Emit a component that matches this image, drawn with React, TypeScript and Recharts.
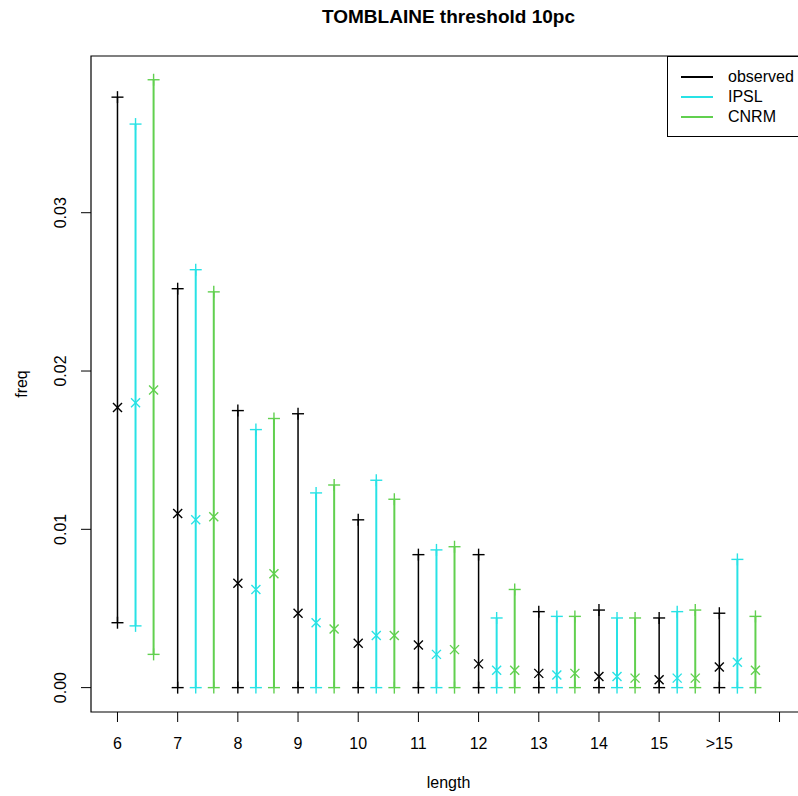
import React from "react";
import {
  ComposedChart,
  Scatter,
  ErrorBar,
  XAxis,
  YAxis,
  ReferenceArea,
  Legend,
} from "recharts";

// length classes (16 is shown as ">15")
const lengths = [6, 7, 8, 9, 10, 11, 12, 13, 14, 15, 16];
const xTicks = [6, 7, 8, 9, 10, 11, 12, 13, 14, 15, 16, 17];
const yTicks = [0, 0.01, 0.02, 0.03];

const obsLo = [0.0041, 0, 0, 0, 0, 0, 0, 0, 0, 0, 0];
const obsMid = [0.0177, 0.011, 0.0066, 0.0047, 0.0028, 0.0027, 0.0015, 0.0009, 0.0007, 0.0005, 0.0013];
const obsHi = [0.0373, 0.0252, 0.0175, 0.0173, 0.0106, 0.0084, 0.0084, 0.0048, 0.0049, 0.0044, 0.0047];

const ipslLo = [0.0039, 0, 0, 0, 0, 0, 0, 0, 0, 0, 0];
const ipslMid = [0.018, 0.0106, 0.0062, 0.0041, 0.0033, 0.0021, 0.0011, 0.0008, 0.0007, 0.0006, 0.0016];
const ipslHi = [0.0356, 0.0264, 0.0163, 0.0123, 0.0131, 0.0087, 0.0044, 0.0045, 0.0044, 0.0048, 0.0081];

const cnrmLo = [0.0021, 0, 0, 0, 0, 0, 0, 0, 0, 0, 0];
const cnrmMid = [0.0188, 0.0108, 0.0072, 0.0037, 0.0033, 0.0024, 0.0011, 0.0009, 0.0006, 0.0006, 0.0011];
const cnrmHi = [0.0384, 0.025, 0.017, 0.0128, 0.0119, 0.0089, 0.0062, 0.0045, 0.0044, 0.0049, 0.0045];

const xDomain: [number, number] = [5.56, 17.44];
const yDomain: [number, number] = [-0.00154, 0.0399];

const series = [
  { name: "observed", color: "#000000", offset: 0, lo: obsLo, mid: obsMid, hi: obsHi },
  { name: "IPSL", color: "#28E2E5", offset: 0.3, lo: ipslLo, mid: ipslMid, hi: ipslHi },
  { name: "CNRM", color: "#61D04F", offset: 0.6, lo: cnrmLo, mid: cnrmMid, hi: cnrmHi },
];

const buildRows = (s: (typeof series)[number], key: "lo" | "mid" | "hi") =>
  lengths.map((len, i) => ({
    x: len + s.offset,
    y: s[key][i],
    err: [s.mid[i] - s.lo[i], s.hi[i] - s.mid[i]],
  }));

const Plus = ({ cx, cy, color }: any) => (
  <g stroke={color} strokeWidth={1.4}>
    <line x1={cx - 6} y1={cy} x2={cx + 6} y2={cy} />
    <line x1={cx} y1={cy - 6} x2={cx} y2={cy + 6} />
  </g>
);

const Cross = ({ cx, cy, color }: any) => (
  <g stroke={color} strokeWidth={1.4}>
    <line x1={cx - 4.5} y1={cy - 4.5} x2={cx + 4.5} y2={cy + 4.5} />
    <line x1={cx - 4.5} y1={cy + 4.5} x2={cx + 4.5} y2={cy - 4.5} />
  </g>
);

const YTick = ({ x, y, payload }: any) => (
  <text
    x={x}
    y={y}
    fontSize={16}
    fill="#000"
    textAnchor="middle"
    dominantBaseline="central"
    transform={`rotate(-90, ${x}, ${y})`}
  >
    {Number(payload.value).toFixed(2)}
  </text>
);

const LegendBox = () => (
  <div
    style={{
      border: "1px solid #000",
      background: "#fff",
      width: 150,
      height: 79,
      position: "relative",
      fontSize: 16,
    }}
  >
    {series.map((s, i) => (
      <div
        key={s.name}
        style={{ position: "absolute", left: 13, top: 10 + i * 20, height: 20, display: "flex", alignItems: "center" }}
      >
        <div style={{ width: 32, height: 2, background: s.color }} />
        <span style={{ marginLeft: 15, lineHeight: "20px" }}>{s.name}</span>
      </div>
    ))}
  </div>
);

export default function App() {
  return (
    <div
      style={{
        position: "absolute",
        left: 0,
        top: 0,
        width: 798,
        height: 796,
        overflow: "hidden",
        background: "#fff",
        fontFamily: '"Liberation Sans", Arial, sans-serif',
        color: "#000",
      }}
    >
      <div
        style={{
          position: "absolute",
          left: 91,
          top: 7,
          width: 715,
          textAlign: "center",
          fontWeight: "bold",
          fontSize: 19,
          lineHeight: "19px",
        }}
      >
        TOMBLAINE threshold 10pc
      </div>
      <div
        style={{
          position: "absolute",
          left: 91,
          top: 775,
          width: 715,
          textAlign: "center",
          fontSize: 16,
          lineHeight: "16px",
        }}
      >
        length
      </div>
      <div
        style={{
          position: "absolute",
          left: -28,
          top: 374,
          width: 100,
          height: 20,
          textAlign: "center",
          fontSize: 16,
          lineHeight: "20px",
          transform: "rotate(-90deg)",
        }}
      >
        freq
      </div>
      <ComposedChart
        width={830}
        height={796}
        margin={{ top: 56, right: 24, bottom: 44, left: 0 }}
        style={{ position: "absolute", left: 0, top: 0 }}
      >
        <XAxis
          dataKey="x"
          type="number"
          domain={xDomain}
          ticks={xTicks}
          allowDataOverflow
          interval={0}
          axisLine={false}
          tickLine={{ stroke: "#000" }}
          tickSize={10}
          tickMargin={16}
          height={40}
          tick={{ fontSize: 16, fill: "#000" }}
          tickFormatter={(v: number) => (v === 16 ? ">15" : v === 17 ? "" : String(v))}
        />
        <YAxis
          dataKey="y"
          type="number"
          domain={yDomain}
          ticks={yTicks}
          allowDataOverflow
          interval={0}
          axisLine={false}
          tickLine={{ stroke: "#000" }}
          tickSize={10}
          tickMargin={20}
          width={91}
          tick={<YTick />}
        />
        <ReferenceArea
          x1={xDomain[0]}
          x2={xDomain[1]}
          y1={yDomain[0]}
          y2={yDomain[1]}
          fill="none"
          stroke="#000"
          strokeWidth={1.2}
          ifOverflow="visible"
        />
        {series.map((s) => (
          <Scatter
            key={s.name + "-mid"}
            name={s.name}
            data={buildRows(s, "mid")}
            isAnimationActive={false}
            shape={(p: any) => <Cross cx={p.cx} cy={p.cy} color={s.color} />}
          >
            <ErrorBar
              dataKey="err"
              direction="y"
              width={0}
              stroke={s.color}
              strokeWidth={s.offset === 0 ? 1.5 : 2}
              isAnimationActive={false}
            />
          </Scatter>
        ))}
        {series.map((s) => (
          <Scatter
            key={s.name + "-lo"}
            name={s.name + " min"}
            data={buildRows(s, "lo")}
            isAnimationActive={false}
            legendType="none"
            shape={(p: any) => <Plus cx={p.cx} cy={p.cy} color={s.color} />}
          />
        ))}
        {series.map((s) => (
          <Scatter
            key={s.name + "-hi"}
            name={s.name + " max"}
            data={buildRows(s, "hi")}
            isAnimationActive={false}
            legendType="none"
            shape={(p: any) => <Plus cx={p.cx} cy={p.cy} color={s.color} />}
          />
        ))}
        <Legend
          layout="vertical"
          align="center"
          verticalAlign="middle"
          content={<LegendBox />}
          wrapperStyle={{ position: "absolute", left: 667, top: 56, width: 152, height: 81 }}
        />
      </ComposedChart>
    </div>
  );
}
